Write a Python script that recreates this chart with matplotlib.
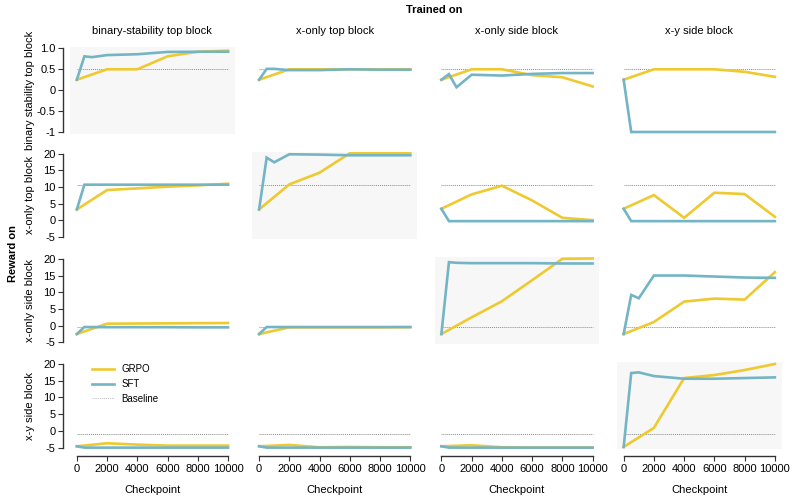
import matplotlib
matplotlib.use("Agg")
import matplotlib.pyplot as plt
import numpy as np

plt.rcParams['font.family'] = ['Liberation Sans', 'DejaVu Sans']
plt.rcParams['axes.unicode_minus'] = False

# checkpoints
sft_steps = [0, 500, 1000, 2000, 4000, 6000, 8000, 10000]
grpo_steps = [0, 2000, 4000, 6000, 8000, 10000]

col_titles = ['binary-stability top block', 'x-only top block',
              'x-only side block', 'x-y side block']
row_labels = ['binary stability top block', 'x-only top block',
              'x-only side block', 'x-y side block']

# baselines per reward row
baselines = [0.5, 10.7, -0.4, -0.8]

# SFT[row][col]
sft = [
    [[0.25, 0.81, 0.79, 0.84, 0.86, 0.915, 0.92, 0.92],
     [0.25, 0.51, 0.51, 0.48, 0.48, 0.50, 0.49, 0.49],
     [0.25, 0.385, 0.07, 0.37, 0.35, 0.39, 0.41, 0.41],
     [0.25, -1.0, -1.0, -1.0, -1.0, -1.0, -1.0, -1.0]],
    [[3.3, 10.7, 10.7, 10.7, 10.7, 10.7, 10.7, 10.7],
     [3.3, 18.8, 17.4, 19.8, 19.7, 19.5, 19.5, 19.5],
     [3.5, -0.2, -0.2, -0.2, -0.2, -0.2, -0.2, -0.2],
     [3.5, -0.2, -0.2, -0.2, -0.2, -0.2, -0.2, -0.2]],
    [[-2.5, -0.4, -0.4, -0.45, -0.45, -0.45, -0.5, -0.5],
     [-2.5, -0.4, -0.4, -0.4, -0.4, -0.4, -0.4, -0.4],
     [-2.5, 19.0, 18.8, 18.7, 18.7, 18.7, 18.6, 18.6],
     [-2.5, 9.2, 8.2, 15.0, 15.0, 14.7, 14.4, 14.3]],
    [[-4.6, -5.0, -5.0, -5.0, -5.0, -5.0, -5.0, -5.0],
     [-4.6, -5.0, -5.0, -5.0, -5.0, -5.0, -5.0, -5.0],
     [-4.6, -5.0, -5.0, -5.0, -5.0, -5.0, -5.0, -5.0],
     [-4.8, 17.3, 17.5, 16.4, 15.6, 15.6, 15.8, 16.0]],
]

# GRPO[row][col]
grpo = [
    [[0.25, 0.5, 0.5, 0.81, 0.92, 0.945],
     [0.25, 0.5, 0.5, 0.5, 0.5, 0.5],
     [0.25, 0.5, 0.5, 0.36, 0.31, 0.09],
     [0.25, 0.5, 0.5, 0.5, 0.44, 0.32]],
    [[3.3, 9.1, 9.6, 10.1, 10.5, 11.0],
     [3.3, 10.8, 14.3, 20.1, 20.1, 20.2],
     [3.5, 7.8, 10.4, 6.0, 0.8, 0.1],
     [3.5, 7.6, 0.8, 8.3, 7.9, 1.1]],
    [[-2.5, 0.6, 0.65, 0.7, 0.75, 0.8],
     [-2.5, -0.5, -0.5, -0.5, -0.5, -0.45],
     [-2.5, 2.5, 7.3, 13.6, 20.0, 20.1],
     [-2.5, 1.1, 7.2, 8.1, 7.8, 16.0]],
    [[-4.6, -3.7, -4.1, -4.4, -4.4, -4.4],
     [-4.6, -4.2, -4.9, -4.8, -4.9, -4.9],
     [-4.6, -4.3, -4.9, -5.0, -5.0, -5.0],
     [-4.8, 0.9, 15.8, 16.7, 18.2, 20.0]],
]

row_ticks = [[-1, -0.5, 0, 0.5, 1.0]] + [[-5, 0, 5, 10, 15, 20]] * 3
row_ticklabels = [['-1', '-0.5', '0', '0.5', '1.0']] + \
    [['-5', '0', '5', '10', '15', '20']] * 3
x_ticks = [0, 2000, 4000, 6000, 8000, 10000]

c_grpo = '#EEC930'
c_sft = '#74B5C5'
c_base = '#8a8a8a'

fig, axes = plt.subplots(4, 4, figsize=(7.93, 4.97), dpi=100)
fig.subplots_adjust(left=0.0883, right=0.9857, top=0.906, bottom=0.096,
                    wspace=0.106, hspace=0.21)

for r in range(4):
    lo, hi = row_ticks[r][0], row_ticks[r][-1]
    pad = 0.02 * (hi - lo)
    for c in range(4):
        ax = axes[r, c]
        ax.plot(grpo_steps, grpo[r][c], color=c_grpo, lw=1.9, label='GRPO',
                solid_joinstyle='miter', zorder=3)
        ax.plot(sft_steps, sft[r][c], color=c_sft, lw=1.9, label='SFT',
                solid_joinstyle='miter', zorder=3)
        ax.hlines(baselines[r], 0, 10000, colors=c_base, linestyles=(0, (1, 1)),
                  lw=0.7, label='Baseline', zorder=2)
        ax.set_xlim(-450, 10450)
        ax.set_ylim(lo - pad, hi + pad)
        ax.set_facecolor('#f7f7f7' if r == c else 'white')
        for s in ['top', 'right']:
            ax.spines[s].set_visible(False)
        for s in ['left', 'bottom']:
            ax.spines[s].set_position(('outward', 5))
            ax.spines[s].set_color('#333333')
            ax.spines[s].set_linewidth(1.0)
        ax.tick_params(colors='#333333', labelcolor='black', labelsize=8,
                       length=3.5, width=0.8, pad=2)
        if c == 0:
            ax.set_yticks(row_ticks[r])
            ax.set_yticklabels(row_ticklabels[r])
            ax.spines['left'].set_bounds(lo, hi)
            ax.set_ylabel(row_labels[r], fontsize=8)
            ax.yaxis.set_label_coords(-0.21, 0.5)
        else:
            ax.spines['left'].set_visible(False)
            ax.set_yticks([])
        if r == 3:
            ax.set_xticks(x_ticks)
            ax.spines['bottom'].set_bounds(0, 10000)
            ax.set_xlabel('Checkpoint', fontsize=8, labelpad=8)
        else:
            ax.spines['bottom'].set_visible(False)
            ax.set_xticks([])
        if r == 0:
            ax.set_title(col_titles[c], fontsize=8, pad=9)

leg = axes[3, 0].legend(loc='upper left', frameon=False, fontsize=7,
                        handlelength=2.3, bbox_to_anchor=(0.08, 1.08),
                        labelspacing=0.5, handletextpad=0.7)
leg.get_lines()[2].set_color('#bbbbbb')

fig.text(0.548, 0.979, 'Trained on', ha='center', va='center',
         fontsize=8, fontweight='bold')
fig.text(0.016, 0.49, 'Reward on', ha='center', va='center', rotation=90,
         fontsize=8, fontweight='bold')

fig.savefig('out.png', dpi=100)
